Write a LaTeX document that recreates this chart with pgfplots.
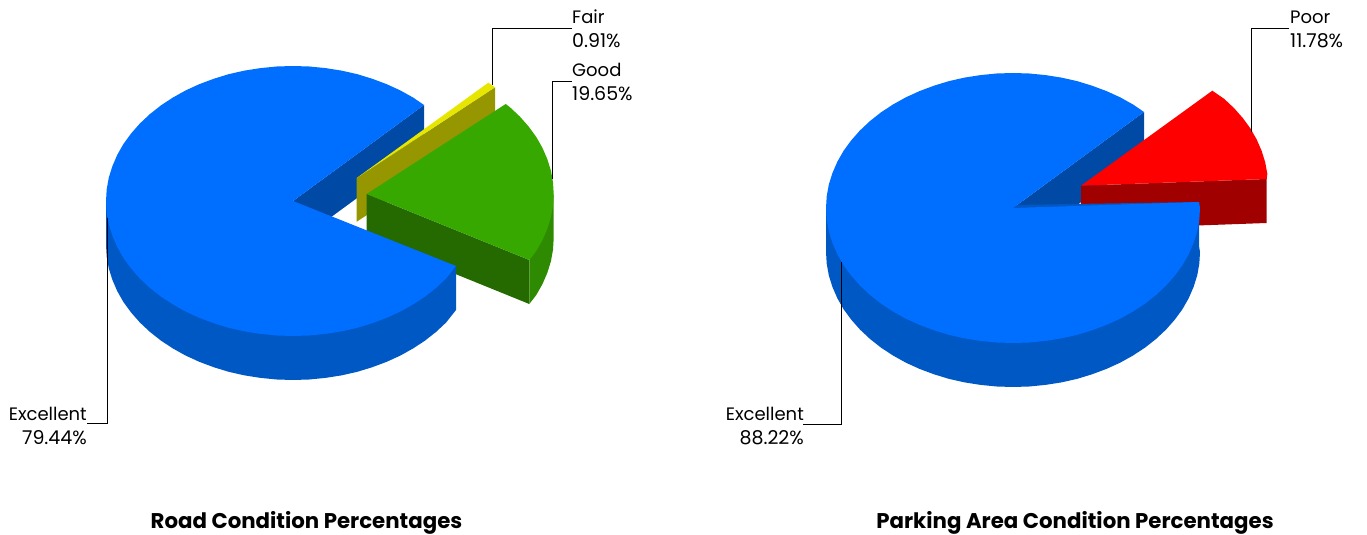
\documentclass[border=0pt]{standalone}
\usepackage{fontspec}
\setmainfont[Numbers=Monospaced]{Poppins}
\usepackage{pgfplots}
\pgfplotsset{compat=1.18}
\definecolor{bluetop}{HTML}{006EFF}
\definecolor{bluerim}{HTML}{0058C4}
\definecolor{bluewall}{HTML}{004AA6}
\definecolor{greentop}{HTML}{36A800}
\definecolor{greenrim}{HTML}{2E8A00}
\definecolor{greenwall}{HTML}{246A00}
\definecolor{yellowtop}{HTML}{E6E600}
\definecolor{yellowwall}{HTML}{969600}
\definecolor{redtop}{HTML}{FF0000}
\definecolor{redwall}{HTML}{A00000}
\pgfplotsset{pie/.style={at={(0pt,0pt)},anchor=south west,scale only axis,width=1367pt,height=535pt,hide axis,clip=false}}
\newcommand{\lab}{\fontsize{18}{18}\selectfont}
\newcommand{\num}{\fontsize{19}{19}\selectfont}
\newcommand{\ttl}{\fontsize{21.3}{21.3}\selectfont\bfseries}
\begin{document}
\begin{tikzpicture}
\useasboundingbox (0pt,0pt) rectangle (1367pt,535pt);
\begin{axis}[pie,xmin=-293,xmax=1074,ymin=-334,ymax=201]
\addplot[draw=none,fill=bluewall] coordinates {(0,0)(131,96)(131,52)(0,-44)};
\addplot[draw=none,fill=yellowwall] coordinates {(63.7,23)(202,113.7)(202,69.7)(63.7,-20.7)};
\addplot[draw=none,fill=yellowtop] coordinates {(63.7,23)(195.3,118.3)(202,113.7)};
\addplot[draw=none,fill=greenwall] coordinates {(73.7,7)(236.3,-59)(236.3,-103)(73.7,-37)};
\addplot[draw=none,fill=greenrim] coordinates {(260.7,7)(260.7,-37)(260,-48.8)(257.9,-60.4)(254.3,-71.9)(249.4,-83.2)(243.2,-94.1)(236.3,-103)(236.3,-59)};
\addplot[draw=none,fill=greentop] coordinates {(73.7,7)(212.7,97)(216.9,93.8)(226.9,84.4)(235.6,74.5)(243.2,64.1)(249.4,53.2)(254.3,41.9)(257.9,30.4)(260,18.8)(260.7,7)(260,-4.8)(257.9,-16.4)(254.3,-27.9)(249.4,-39.2)(243.2,-50.1)(236.3,-59)};
\addplot[draw=none,fill=bluerim] coordinates {(-187,0)(-187,-44)(-186.3,-55.8)(-184.2,-67.4)(-180.6,-78.9)(-175.7,-90.2)(-169.5,-101.1)(-161.9,-111.5)(-153.2,-121.4)(-143.2,-130.8)(-132.2,-139.5)(-120.2,-147.4)(-107.3,-154.6)(-93.5,-160.9)(-79,-166.3)(-64,-170.9)(-48.4,-174.4)(-32.5,-176.9)(-16.3,-178.5)(0,-179)(16.3,-178.5)(32.5,-176.9)(48.4,-174.4)(64,-170.9)(79,-166.3)(93.5,-160.9)(107.3,-154.6)(120.2,-147.4)(132.2,-139.5)(143.2,-130.8)(153.2,-121.4)(163,-109)(163,-65)};
\addplot[draw=none,fill=bluetop] coordinates {(0,0)(131,96)(120.2,103.4)(107.3,110.6)(93.5,116.9)(79,122.3)(64,126.9)(48.4,130.4)(32.5,132.9)(16.3,134.5)(0,135)(-16.3,134.5)(-32.5,132.9)(-48.4,130.4)(-64,126.9)(-79,122.3)(-93.5,116.9)(-107.3,110.6)(-120.2,103.4)(-132.2,95.5)(-143.2,86.8)(-153.2,77.4)(-161.9,67.5)(-169.5,57.1)(-175.7,46.2)(-180.6,34.9)(-184.2,23.4)(-186.3,11.8)(-187,0)(-186.3,-11.8)(-184.2,-23.4)(-180.6,-34.9)(-175.7,-46.2)(-169.5,-57.1)(-161.9,-67.5)(-153.2,-77.4)(-143.2,-86.8)(-132.2,-95.5)(-120.2,-103.4)(-107.3,-110.6)(-93.5,-116.9)(-79,-122.3)(-64,-126.9)(-48.4,-130.4)(-32.5,-132.9)(-16.3,-134.5)(0,-135)(16.3,-134.5)(32.5,-132.9)(48.4,-130.4)(64,-126.9)(79,-122.3)(93.5,-116.9)(107.3,-110.6)(120.2,-103.4)(132.2,-95.5)(143.2,-86.8)(153.2,-77.4)(163,-65)};
\addplot[black,line width=1pt] coordinates {(279,172.3)(199.3,172.3)(199.3,116)};
\addplot[black,line width=1pt] coordinates {(279,119)(259.3,119)(259.3,22)};
\addplot[black,line width=1pt] coordinates {(-185.7,-17)(-185.7,-223)(-206.3,-223)};
\node[anchor=west,inner sep=0pt] at (axis cs:279,184) {\lab Fair};
\node[anchor=west,inner sep=0pt] at (axis cs:279,160) {\num 0.91\%};
\node[anchor=west,inner sep=0pt] at (axis cs:279,131) {\lab Good};
\node[anchor=west,inner sep=0pt] at (axis cs:279,107) {\num 19.65\%};
\node[anchor=east,inner sep=0pt] at (axis cs:-206,-213) {\lab Excellent};
\node[anchor=east,inner sep=0pt] at (axis cs:-206,-237) {\num 79.44\%};
\node[anchor=center,inner sep=0pt] at (axis cs:13.5,-322) {\ttl Road Condition Percentages};
\end{axis}
\begin{axis}[pie,xmin=-1013,xmax=354,ymin=-327,ymax=208]
\addplot[draw=none,fill=bluewall] coordinates {(0,0)(131,96)(131,52)(0,-44)};
\addplot[draw=none,fill=redwall] coordinates {(68,22.3)(253.7,29)(253.7,-15)(68,-21.7)};
\addplot[draw=none,fill=redtop] coordinates {(68,22.3)(199.3,117.3)(211.2,109.1)(221.2,99.7)(229.9,89.8)(237.5,79.4)(243.7,68.5)(248.6,57.2)(252.2,45.7)(254.3,34.1)(253.7,29)};
\addplot[draw=none,fill=bluerim] coordinates {(-187,0)(-187,-44)(-186.3,-55.8)(-184.2,-67.4)(-180.6,-78.9)(-175.7,-90.2)(-169.5,-101.1)(-161.9,-111.5)(-153.2,-121.4)(-143.2,-130.8)(-132.2,-139.5)(-120.2,-147.4)(-107.3,-154.6)(-93.5,-160.9)(-79,-166.3)(-64,-170.9)(-48.4,-174.4)(-32.5,-176.9)(-16.3,-178.5)(0,-179)(16.3,-178.5)(32.5,-176.9)(48.4,-174.4)(64,-170.9)(79,-166.3)(93.5,-160.9)(107.3,-154.6)(120.2,-147.4)(132.2,-139.5)(143.2,-130.8)(153.2,-121.4)(161.9,-111.5)(169.5,-101.1)(175.7,-90.2)(180.6,-78.9)(184.2,-67.4)(186.3,-55.8)(187,-44)(186,-38)(186,6)};
\addplot[draw=none,fill=bluetop] coordinates {(0,0)(131,96)(120.2,103.4)(107.3,110.6)(93.5,116.9)(79,122.3)(64,126.9)(48.4,130.4)(32.5,132.9)(16.3,134.5)(0,135)(-16.3,134.5)(-32.5,132.9)(-48.4,130.4)(-64,126.9)(-79,122.3)(-93.5,116.9)(-107.3,110.6)(-120.2,103.4)(-132.2,95.5)(-143.2,86.8)(-153.2,77.4)(-161.9,67.5)(-169.5,57.1)(-175.7,46.2)(-180.6,34.9)(-184.2,23.4)(-186.3,11.8)(-187,0)(-186.3,-11.8)(-184.2,-23.4)(-180.6,-34.9)(-175.7,-46.2)(-169.5,-57.1)(-161.9,-67.5)(-153.2,-77.4)(-143.2,-86.8)(-132.2,-95.5)(-120.2,-103.4)(-107.3,-110.6)(-93.5,-116.9)(-79,-122.3)(-64,-126.9)(-48.4,-130.4)(-32.5,-132.9)(-16.3,-134.5)(0,-135)(16.3,-134.5)(32.5,-132.9)(48.4,-130.4)(64,-126.9)(79,-122.3)(93.5,-116.9)(107.3,-110.6)(120.2,-103.4)(132.2,-95.5)(143.2,-86.8)(153.2,-77.4)(161.9,-67.5)(169.5,-57.1)(175.7,-46.2)(180.6,-34.9)(184.2,-23.4)(186.3,-11.8)(187,0)(186,6)};
\addplot[black,line width=1pt] coordinates {(276.3,179.3)(238.7,179.3)(238.7,76.3)};
\addplot[black,line width=1pt] coordinates {(-171.7,-53.7)(-171.7,-216.3)(-209.7,-216.3)};
\node[anchor=west,inner sep=0pt] at (axis cs:277,191) {\lab Poor};
\node[anchor=west,inner sep=0pt] at (axis cs:277,167) {\num 11.78\%};
\node[anchor=east,inner sep=0pt] at (axis cs:-209,-206) {\lab Excellent};
\node[anchor=east,inner sep=0pt] at (axis cs:-209,-230) {\num 88.22\%};
\node[anchor=center,inner sep=0pt] at (axis cs:62,-315) {\ttl Parking Area Condition Percentages};
\end{axis}
\end{tikzpicture}
\end{document}
